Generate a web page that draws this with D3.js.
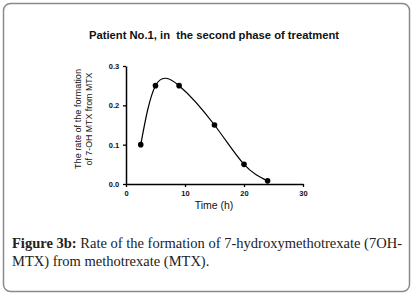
<!DOCTYPE html>
<html><head><meta charset="utf-8">
<script src="https://cdn.jsdelivr.net/npm/d3@7"></script>
<style>html,body{margin:0;padding:0;background:#fff;}svg{display:block;}</style>
</head><body>
<script>
const timeH = [2.5, 5, 9, 15, 20, 24];
const rate = [0.1, 0.25, 0.25, 0.15, 0.05, 0.008];
const xTicks = [0, 10, 20, 30];
const yTicks = [0.0, 0.1, 0.2, 0.3];

const W = 411, H = 294;
const svg = d3.select("body").append("svg").attr("width", W).attr("height", H);

svg.append("rect").attr("x", 3.5).attr("y", 3.5).attr("width", 406).attr("height", 288)
  .attr("rx", 7).attr("fill", "#fff").attr("stroke", "#8a8a8a").attr("stroke-width", 1.5);

const x = d3.scaleLinear().domain([0, 30]).range([126, 303]);
const y = d3.scaleLinear().domain([0, 0.3]).range([184, 66]);

svg.append("text").attr("x", 214).attr("y", 39).attr("text-anchor", "middle")
  .attr("font-family", "Liberation Sans, Arial, sans-serif").attr("font-weight", "bold")
  .attr("font-size", 10.5).attr("fill", "#111").attr("xml:space", "preserve")
  .attr("textLength", 250).attr("lengthAdjust", "spacingAndGlyphs")
  .text("Patient No.1, in  the second phase of treatment");

const xAxis = svg.append("g").attr("transform", "translate(0,184)")
  .call(d3.axisBottom(x).tickValues(xTicks).tickSize(3).tickSizeOuter(0).tickFormat(d3.format("d")));
const yAxis = svg.append("g").attr("transform", "translate(126,0)")
  .call(d3.axisLeft(y).tickValues(yTicks).tickSize(3).tickSizeOuter(0).tickFormat(d3.format(".1f")));
[xAxis, yAxis].forEach(g => {
  g.select(".domain").attr("stroke", "#000").attr("stroke-width", 1.5);
  g.selectAll(".tick line").attr("stroke", "#000").attr("stroke-width", 1.3);
  g.selectAll(".tick text").attr("font-family", "Liberation Sans, Arial, sans-serif")
    .attr("font-weight", "bold").attr("font-size", 7.5).attr("fill", "#111");
});
xAxis.selectAll(".tick text").attr("dy", "0.85em");
yAxis.selectAll(".tick text").attr("dx", "-0.1em");

const pts = timeH.map((t, i) => [t, rate[i]]);
const line = d3.line().x(d => x(d[0])).y(d => y(d[1])).curve(d3.curveNatural);
svg.append("path").attr("d", line(pts)).attr("fill", "none").attr("stroke", "#000").attr("stroke-width", 1.2);
svg.selectAll("circle.pt").data(pts).enter().append("circle").attr("class", "pt")
  .attr("cx", d => x(d[0])).attr("cy", d => y(d[1])).attr("r", 2.8).attr("fill", "#000");

svg.append("text").attr("x", 214).attr("y", 209).attr("text-anchor", "middle")
  .attr("font-family", "Liberation Sans, Arial, sans-serif").attr("font-size", 10.5)
  .attr("fill", "#111").text("Time (h)");

const yl = svg.append("text").attr("transform", "translate(81,119) rotate(-90)")
  .attr("text-anchor", "middle").attr("font-family", "Liberation Sans, Arial, sans-serif")
  .attr("font-size", 9.5).attr("fill", "#111");
yl.append("tspan").attr("x", 0).attr("y", 0).attr("textLength", 100).attr("lengthAdjust", "spacingAndGlyphs").text("The rate of the formation");
yl.append("tspan").attr("x", 0).attr("y", 11).attr("textLength", 93).attr("lengthAdjust", "spacingAndGlyphs").text("of 7-OH MTX from MTX");

const cap1 = svg.append("text").attr("x", 12).attr("y", 248)
  .attr("font-family", "Liberation Serif, Times New Roman, serif").attr("font-size", 14.5)
  .attr("fill", "#222").attr("textLength", 390).attr("lengthAdjust", "spacing");
cap1.append("tspan").attr("font-weight", "bold").text("Figure 3b:");
cap1.append("tspan").text(" Rate of the formation of 7-hydroxymethotrexate (7OH-");
svg.append("text").attr("x", 12).attr("y", 266)
  .attr("font-family", "Liberation Serif, Times New Roman, serif").attr("font-size", 14.5)
  .attr("fill", "#222").text("MTX) from methotrexate (MTX).");
</script>
</body></html>
